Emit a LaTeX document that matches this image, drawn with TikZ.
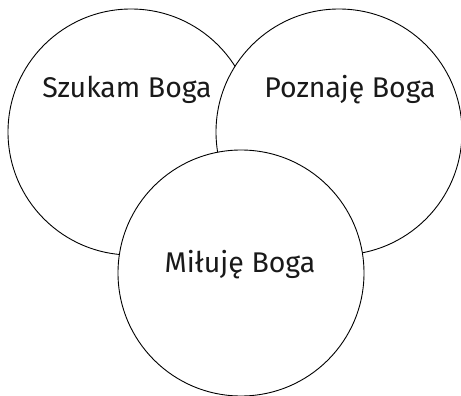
\documentclass[tikz,border=0pt]{standalone}
\usepackage{fontspec}
\setmainfont{Fira Sans}
\begin{document}
\begin{tikzpicture}[x=1pt,y=-1pt,
  circ/.style={draw=black,fill=white,line width=0.9pt,circle,minimum size=246pt,inner sep=0pt},
  lbl/.style={anchor=base,font=\fontsize{28.5}{32}\selectfont,text=black!90}]
\useasboundingbox (0,0) rectangle (461,396);
\node[circ] (c1) at (131,132) {};
\node[circ] (c2) at (339,132) {};
\node[circ] (c3) at (241,273) {};
\node[lbl] (t1) at (127,98) {Szukam Boga};
\node[lbl] (t2) at (350,98) {Poznaję Boga};
\node[lbl] (t3) at (240,272) {Miłuję Boga};
\end{tikzpicture}
\end{document}
